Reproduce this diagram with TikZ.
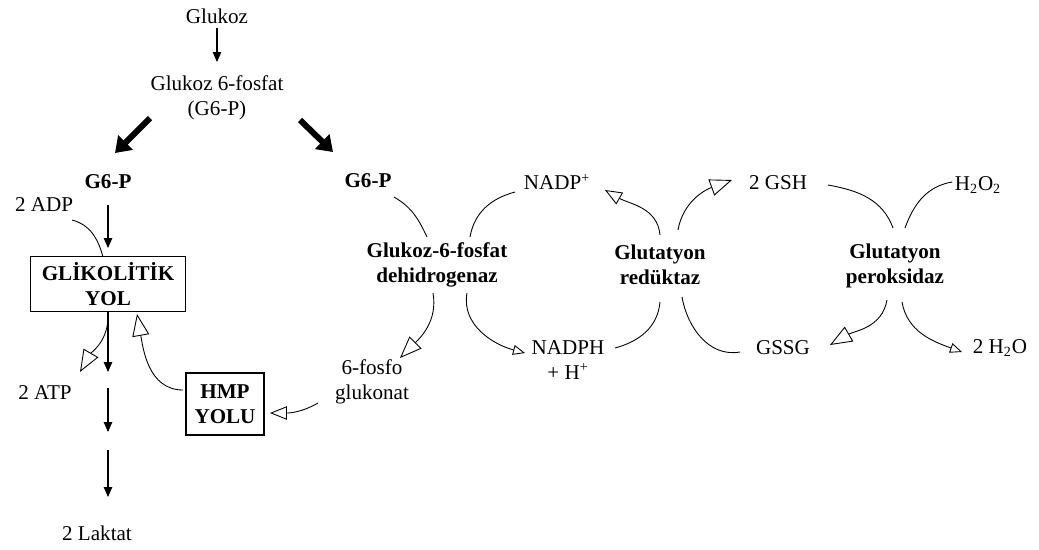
\documentclass[tikz,border=0pt]{standalone}
\usepackage{fontspec}
\setmainfont{Liberation Serif}
\usetikzlibrary{arrows.meta,calc}

\begin{document}
\begin{tikzpicture}[x=0.02cm, y=0.02cm,
        font=\fontsize{12}{14}\selectfont,
        txt/.style = {inner sep=1pt, align=center},
        boldTxt/.style = {txt, font=\fontsize{12}{14}\selectfont\bfseries},
        pathBox/.style = {draw, line width=0.7pt, align=center,
            font=\fontsize{12}{14}\selectfont\bfseries},
        flow/.style = {line width=0.6pt, -{Triangle[length=0.2cm, width=0.17cm]}},
        bigFlow/.style = {line width=0.12cm, -{Triangle[length=0.3cm, width=0.4cm]}},
        link/.style = {line width=0.5pt},
        openBig/.style = {link, -{Triangle[open, length=0.44cm, width=0.34cm]}},
        openMid/.style = {link, -{Triangle[open, length=0.34cm, width=0.27cm]}},
        openSmall/.style = {link, -{Triangle[open, length=0.24cm, width=0.2cm]}}]

        \useasboundingbox (0,0) rectangle (1039,-549);

        % Glucose entry
        \node[txt] (glu) at (217,-16) {Glukoz};
        \node[txt] (g6p) at (217,-98) {Glukoz 6-fosfat\\(G6-P)};
        \node[boldTxt] (g6pL) at (108,-182) {G6-P};
        \node[boldTxt] (g6pR) at (368,-181) {G6-P};

        % Glycolysis
        \node[txt] (adp) at (44,-205) {2 ADP};
        \node[pathBox, minimum width=3.1cm, minimum height=1.08cm] (glik) at (108,-284) {GLİKOLİTİK\\YOL};
        \node[txt] (atp) at (45,-393) {2 ATP};
        \node[txt] (lak) at (97,-533) {2 Laktat};
        \node[pathBox, minimum width=1.56cm, minimum height=1.24cm] (hmp) at (225,-404) {HMP\\YOLU};

        % Enzymes and substrates
        \node[txt] (fosfo) at (372,-382) {6-fosfo\\glukonat};
        \node[boldTxt] (enz) at (437,-265) {Glukoz-6-fosfat\\dehidrogenaz};
        \node[txt] (nadp) at (557,-182) {NADP\textsuperscript{+}};
        \node[txt] (nadph) at (568,-360) {NADPH\\+ H\textsuperscript{+}};
        \node[boldTxt] (gr) at (660,-265) {Glutatyon\\redüktaz};
        \node[txt] (gsh) at (778,-183) {2 GSH};
        \node[txt] (h2o2) at (978,-185) {H\textsubscript{2}O\textsubscript{2}};
        \node[boldTxt] (gp) at (895,-266) {Glutatyon\\peroksidaz};
        \node[txt] (gssg) at (783,-348) {GSSG};
        \node[txt] (h2o) at (1000,-348) {2 H\textsubscript{2}O};

        % Straight arrows
        \draw[flow] ($(glu)+(0,-12)$) -- ($(g6p)+(0,36)$);
        \draw[bigFlow] ($(g6p)+(-67,-20)$) -- ($(g6pL)+(7,29)$);
        \draw[bigFlow] ($(g6p)+(83,-22)$) -- ($(g6pR)+(-35,29)$);
        \draw[flow] ($(g6pL)+(0,-23)$) -- ($(glik)+(0,36)$);
        \draw[flow] (glik.south) -- ($(glik)+(0,-88)$);
        \draw[flow] ($(glik)+(0,-104)$) -- ($(glik)+(0,-148)$);
        \draw[flow] ($(glik)+(0,-166)$) -- ($(glik)+(0,-213)$);

        % Glycolysis side curves
        \draw[link] ($(adp)+(28,-15)$) to[out=-15, in=105] ($(glik)+(-5,27)$);
        \draw[openBig] ($(glik)+(0,-36)$) to[out=-95, in=60] ($(atp)+(35,21)$);
        \draw[openBig] ($(hmp)+(-42,14)$) to[out=180, in=-80] ($(glik)+(29,-30)$);
        \draw[openMid] ($(fosfo)+(-54,-21)$) to[out=210, in=0] ($(hmp)+(45,-9)$);

        % G6PD
        \draw[link] ($(g6pR)+(26,-16)$) to[out=-30, in=115] ($(enz)+(-10,28)$);
        \draw[link] ($(nadp)+(-42,-10)$) to[out=195, in=80] ($(enz)+(33,28)$);
        \draw[openBig] ($(enz)+(-4,-28)$) to[out=-80, in=45] ($(fosfo)+(28,24)$);
        \draw[openSmall] ($(enz)+(30,-28)$) to[out=-100, in=165] ($(nadph)+(-43,7)$);

        % Glutathione reductase
        \draw[link] ($(nadph)+(47,12)$) to[out=15, in=-95] ($(gr)+(0,-37)$);
        \draw[openMid] ($(gr)+(0,30)$) to[out=95, in=-30] ($(nadp)+(48,-8)$);
        \draw[openBig] ($(gr)+(18,35)$) to[out=80, in=200] ($(gsh)+(-46,3)$);
        \draw[link] ($(gssg)+(-43,-4)$) to[out=190, in=-80] ($(gr)+(22,-32)$);

        % Glutathione peroxidase
        \draw[link] ($(gsh)+(50,-2)$) to[out=-10, in=110] ($(gp)+(-2,38)$);
        \draw[link] ($(h2o2)+(-26,3)$) to[out=190, in=70] ($(gp)+(10,38)$);
        \draw[openBig] ($(gp)+(-8,-34)$) to[out=-100, in=30] ($(gssg)+(47,3)$);
        \draw[openSmall] ($(gp)+(7,-36)$) to[out=-80, in=160] ($(h2o)+(-38,-4)$);
    \end{tikzpicture}
\end{document}
